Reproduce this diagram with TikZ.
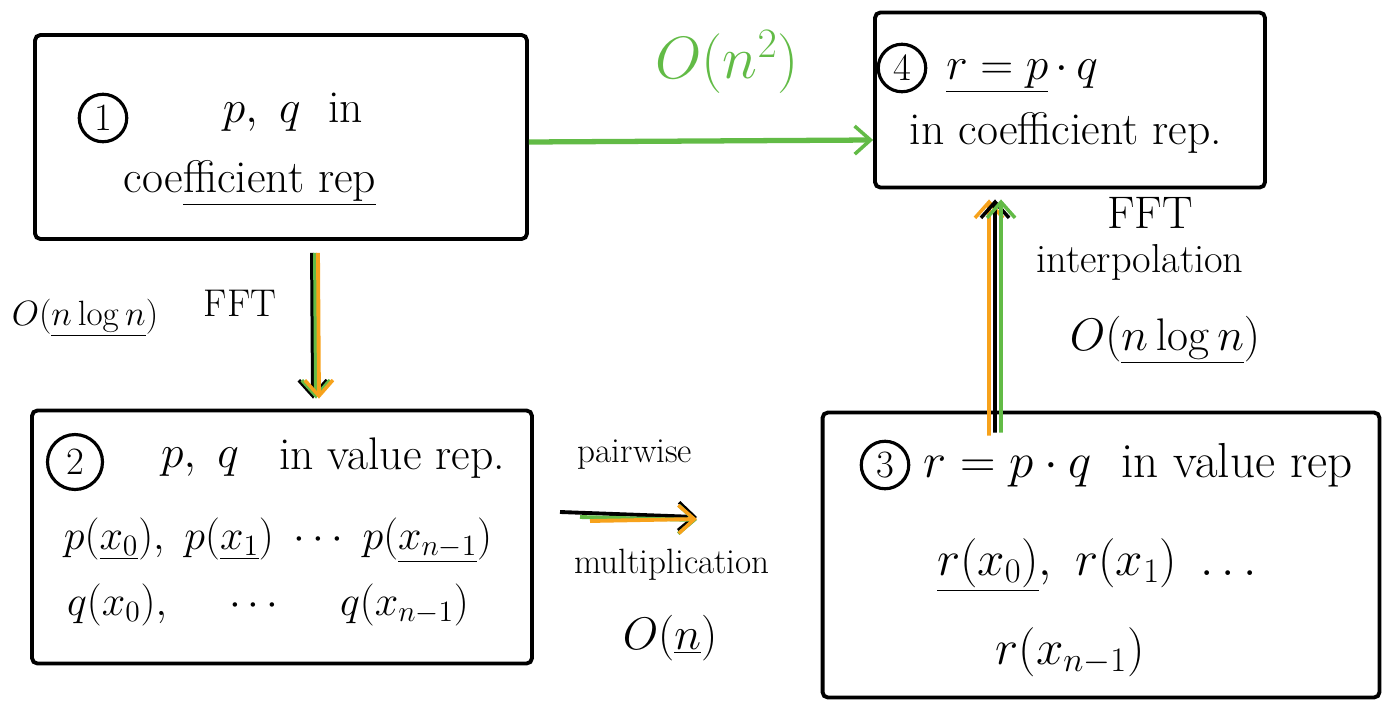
\RequirePackage{fix-cm}
\documentclass[tikz,border=0pt]{standalone}
\usetikzlibrary{arrows.meta,positioning,calc}
\definecolor{pen}{HTML}{62BB46}
\definecolor{hl}{HTML}{F7A21B}
\tikzset{
  panel/.style={draw=black, line width=2.2pt, rounded corners=3pt, inner sep=0pt},
  num/.style={circle, draw=black, line width=1.8pt, minimum size=0.95cm, inner sep=0pt,
              font=\fontsize{22}{24}\selectfont},
  txt/.style={font=\fontsize{26}{30}\selectfont, inner sep=2pt},
  bigtxt/.style={font=\fontsize{28}{32}\selectfont, inner sep=2pt},
  note/.style={font=\fontsize{20}{24}\selectfont, inner sep=2pt},
  ar/.style={-{Straight Barb[length=9pt, width=16pt, line width=2pt]}, line width=2.2pt, draw=black},
  argreen/.style={ar, draw=pen},
  arorange/.style={ar, draw=hl}
}

\begin{document}
\begin{tikzpicture}[x=0.02cm,y=-0.02cm]
  \useasboundingbox (0,0) rectangle (1385,700);

  % the four stages
  \node[panel, minimum width=9.84cm, minimum height=4.08cm] (coef1) at (281,137) {};
  \node[panel, minimum width=7.8cm, minimum height=3.5cm] (coef4) at (1070,100) {};
  \node[panel, minimum width=10cm, minimum height=5.06cm] (val2) at (282,537) {};
  \node[panel, minimum width=11.14cm, minimum height=5.7cm] (val3) at (1101,555) {};

  % stage 1
  \node[num] (n1) at (103,118) {1};
  \node[txt] (t1a) at (293,112) {$p,\ q$ \ in};
  \node[txt] (t1b) at (250,183) {coe\underline{fficient rep}};

  % stage 4
  \node[num] (n4) at (902,68) {4};
  \node[txt] (t4a) at (1022,76) {\underline{$r = p$}$\,\cdot\, q$};
  \node[txt] (t4b) at (1066,133) {in coefficient rep.};

  % stage 2
  \node[num, minimum size=1.1cm] (n2) at (75,462) {2};
  \node[txt] (t2a) at (200,462) {$p,\ q$};
  \node[txt] (t2b) at (392,458) {in value rep.};
  \node[txt, font=\fontsize{24}{28}\selectfont] (t2c) at (278,540) {$p(\underline{x_0}),\ p(\underline{x_1})\ \cdots\ p(\underline{x_{n-1}})$};
  \node[txt, font=\fontsize{24}{28}\selectfont] (t2d) at (268,605) {$q(x_0),\quad\ \cdots\quad\ q(x_{n-1})$};

  % stage 3
  \node[num] (n3) at (885,465) {3};
  \node[bigtxt] (t3a) at (1138,465) {$r = p\cdot q$ \ in value rep};
  \node[bigtxt] (t3b) at (1097,565) {$\underline{r(x_0)},\ r(x_1)\ \ldots$};
  \node[bigtxt] (t3c) at (1070,652) {$r(x_{n-1})$};

  % direct product
  \draw[argreen, line width=3pt] ([yshift=-0.1cm]coef1.east) -- ([yshift=-0.8cm]coef4.west);
  \node[txt, text=pen, font=\fontsize{34}{38}\selectfont] (cost14) at (727,62) {$O(n^2)$};

  % evaluation
  \draw[ar] ([xshift=0.62cm, yshift=-0.24cm]coef1.south) -- ([xshift=0.62cm, yshift=0.2cm]val2.north);
  \draw[argreen] ([xshift=0.68cm, yshift=-0.24cm]coef1.south) -- ([xshift=0.68cm, yshift=0.2cm]val2.north);
  \draw[arorange] ([xshift=0.74cm, yshift=-0.24cm]coef1.south) -- ([xshift=0.74cm, yshift=0.2cm]val2.north);
  \node[note] (cost12) at (85,318) {$O(\underline{n\log n})$};
  \node[note, font=\fontsize{22}{26}\selectfont] (fft12) at (240,303) {FFT};

  % pointwise product
  \coordinate (pw1) at (560,512);
  \coordinate (pw2) at (697,517);
  \draw[ar] (pw1) -- (pw2);
  \draw[argreen] ([xshift=0.4cm, yshift=-0.1cm]pw1) -- ([yshift=-0.06cm]pw2);
  \draw[arorange] ([xshift=0.6cm, yshift=-0.18cm]pw1) -- ([yshift=-0.04cm]pw2);
  \node[note] (pw) at (635,455) {pairwise};
  \node[note] (mult) at (672,565) {multiplication};
  \node[note, font=\fontsize{26}{30}\selectfont] (cost23) at (670,638) {$O(\underline{n})$};

  % interpolation
  \draw[arorange] ([xshift=-2.24cm, yshift=-0.5cm]val3.north) -- ([xshift=-1.62cm, yshift=-0.2cm]coef4.south);
  \draw[ar] ([xshift=-2.12cm, yshift=-0.44cm]val3.north) -- ([xshift=-1.5cm, yshift=-0.2cm]coef4.south);
  \draw[argreen] ([xshift=-2.0cm, yshift=-0.44cm]val3.north) -- ([xshift=-1.38cm, yshift=-0.2cm]coef4.south);
  \node[note, font=\fontsize{26}{30}\selectfont] (fft34) at (1150,213) {FFT};
  \node[note, font=\fontsize{23}{27}\selectfont] (interp) at (1140,262) {interpolation};
  \node[note, font=\fontsize{26}{30}\selectfont] (cost34) at (1165,340) {$O(\underline{n\log n})$};
\end{tikzpicture}
\end{document}
